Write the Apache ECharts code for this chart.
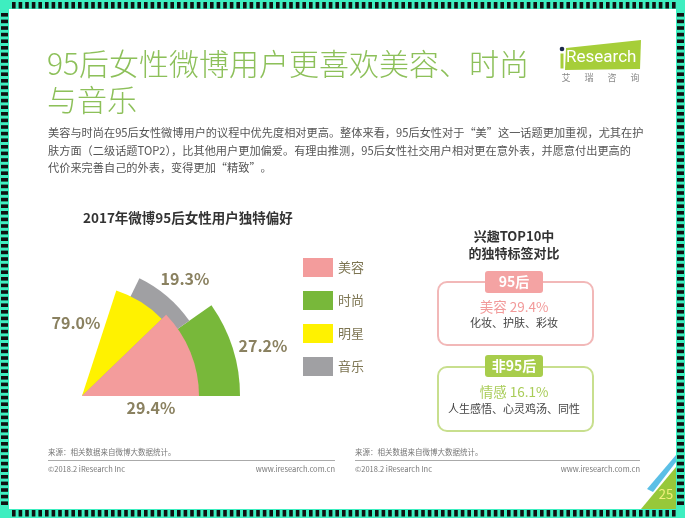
<!DOCTYPE html>
<html>
<head>
<meta charset="utf-8">
<title>95后女性微博用户独特偏好</title>
<script src="https://cdn.jsdelivr.net/npm/echarts@6/dist/echarts.min.js"></script>
<style>
  html, body { margin: 0; padding: 0; background: #fff; }
  #main { width: 685px; height: 518px; }
</style>
</head>
<body>
<div id="main"></div>
<script>
// 图表数据
const categories = ['美容', '时尚', '明星', '音乐'];
const shares = [29.4, 27.2, 79.0, 19.3];
const colors = ['#f39c9c', '#78b83a', '#fff200', '#a0a0a3'];

// 右侧对比标签
const groupNames = ['95后', '非95后'];
const groupTopics = ['美容', '情感'];
const groupShares = [29.4, 16.1];
const groupTags = ['化妆、护肤、彩妆', '人生感悟、心灵鸡汤、同性'];

// 扇形的摆放（角度/半径），不是数据
const sectorStart = [0, 0, 44, 35];
const sectorEnd = [44, 35, 72, 64];
const sectorRadius = [117, 158, 111, 131];
const labelPos = [[151, 408], [263, 346], [76, 323], [185, 279]];
const drawOrder = [1, 3, 2, 0];

const FONT = '"Noto Sans CJK SC", "Microsoft YaHei", sans-serif';
const pieCenter = [82, 396];

let myChart = echarts.init(document.getElementById('main'));

// 每个类别一个扇形
const series = drawOrder.map(i => ({
    name: categories[i],
    type: 'pie',
    center: pieCenter,
    radius: [0, sectorRadius[i]],
    startAngle: sectorStart[i],
    endAngle: sectorEnd[i],
    clockwise: false,
    silent: true,
    animation: false,
    avoidLabelOverlap: false,
    itemStyle: { color: colors[i] },
    label: {
        show: true,
        position: 'outside',
        formatter: p => p.value.toFixed(1) + '%',
        fontFamily: FONT,
        fontSize: 16,
        fontWeight: 'bold',
        color: '#8a8160'
    },
    labelLine: { show: false },
    labelLayout: {
        x: labelPos[i][0],
        y: labelPos[i][1],
        align: 'center',
        verticalAlign: 'middle'
    },
    data: [{ name: categories[i], value: shares[i] }]
}));

function txt(text, x, y, size, color, opts) {
    return {
        type: 'text',
        z: 1,
        silent: true,
        style: Object.assign({
            text: text,
            x: x,
            y: y,
            fontFamily: FONT,
            fontSize: size,
            fill: color,
            textVerticalAlign: 'middle',
            textAlign: 'left'
        }, opts || {})
    };
}

function box(x, y, w, h, fill) {
    return { type: 'rect', z: 0, silent: true, shape: { x: x, y: y, width: w, height: h }, style: { fill: fill } };
}

// 边框：青色底 + 黑色短条
const frame = [
    box(0, 0, 685, 9, '#3eeec0'),
    box(0, 509, 685, 9, '#3eeec0'),
    box(0, 0, 9, 518, '#3eeec0'),
    box(676, 0, 9, 518, '#3eeec0')
];
for (let x = 12; x < 674; x += 6.6) {
    frame.push(box(x, 2, 3.6, 6.5, '#111111'));
    frame.push(box(x, 510, 3.6, 6.5, '#111111'));
}
for (let y = 13; y < 506; y += 6.6) {
    frame.push(box(1, y, 7, 3.6, '#111111'));
    frame.push(box(677, y, 7, 3.6, '#111111'));
}

// 页面装饰：标题、正文、右侧卡片、页脚
const graphics = frame.concat([
    txt('95后女性微博用户更喜欢美容、时尚\n与音乐', 47, 82, 30, '#8dc05a', { fontWeight: 300, lineHeight: 36 }),

    // logo
    { type: 'polygon', silent: true, shape: { points: [[566, 48], [641, 40], [640, 69], [565, 70]] }, style: { fill: '#a6ce39' } },
    { type: 'circle', silent: true, shape: { cx: 562, cy: 49, r: 2.3 }, style: { fill: '#1d2a4d' } },
    { type: 'rect', silent: true, shape: { x: 560.5, y: 53.5, width: 3, height: 15 }, style: { fill: '#a6ce39' } },
    txt('Research', 566, 58, 17, '#ffffff', { fontFamily: 'Roboto, sans-serif' }),
    txt('艾', 566, 78, 9, '#888888', { textAlign: 'center' }),
    txt('瑞', 589, 78, 9, '#888888', { textAlign: 'center' }),
    txt('咨', 612, 78, 9, '#888888', { textAlign: 'center' }),
    txt('询', 635, 78, 9, '#888888', { textAlign: 'center' }),

    txt('美容与时尚在95后女性微博用户的议程中优先度相对更高。整体来看，95后女性对于“美”这一话题更加重视，尤其在护\n' +
        '肤方面（二级话题TOP2），比其他用户更加偏爱。有理由推测，95后女性社交用户相对更在意外表，并愿意付出更高的\n' +
        '代价来完善自己的外表，变得更加“精致”。', 48, 150.5, 11.2, '#555555', { lineHeight: 17.5 }),

    // 右侧卡片
    txt('兴趣TOP10中\n的独特标签对比', 514, 244.5, 13, '#333333', { fontWeight: 'bold', textAlign: 'center', lineHeight: 17 }),

    { type: 'rect', silent: true, shape: { x: 438, y: 282, width: 155, height: 63, r: 9 }, style: { fill: '#fff', stroke: '#f2b8b8', lineWidth: 2 } },
    { type: 'rect', silent: true, shape: { x: 485, y: 271, width: 58, height: 22, r: 3 }, style: { fill: '#f4a3a3' } },
    txt(groupNames[0], 514, 282, 14, '#ffffff', { fontWeight: 'bold', textAlign: 'center' }),
    txt(groupTopics[0] + ' ' + groupShares[0].toFixed(1) + '%', 514, 306.5, 13.5, '#f29a9a', { textAlign: 'center' }),
    txt(groupTags[0], 514, 323, 11, '#444444', { textAlign: 'center' }),

    { type: 'rect', silent: true, shape: { x: 438, y: 367, width: 155, height: 64, r: 9 }, style: { fill: '#fff', stroke: '#c8df8e', lineWidth: 2 } },
    { type: 'rect', silent: true, shape: { x: 485, y: 355, width: 58, height: 22, r: 3 }, style: { fill: '#a8cd4c' } },
    txt(groupNames[1], 514, 366, 14, '#ffffff', { fontWeight: 'bold', textAlign: 'center' }),
    txt(groupTopics[1] + ' ' + groupShares[1].toFixed(1) + '%', 514, 391.5, 13.5, '#a9cc58', { textAlign: 'center' }),
    txt(groupTags[1], 514, 409, 11, '#444444', { textAlign: 'center' }),

    // 页脚
    txt('来源：相关数据来自微博大数据统计。', 48, 452, 7.5, '#777777'),
    txt('来源：相关数据来自微博大数据统计。', 355, 452, 7.5, '#777777'),
    { type: 'line', silent: true, shape: { x1: 48, y1: 460.5, x2: 335, y2: 460.5 }, style: { stroke: '#aaaaaa', lineWidth: 1 } },
    { type: 'line', silent: true, shape: { x1: 355, y1: 460.5, x2: 640, y2: 460.5 }, style: { stroke: '#aaaaaa', lineWidth: 1 } },
    txt('©2018.2 iResearch Inc', 48, 469, 7.5, '#777777'),
    txt('www.iresearch.com.cn', 335, 469, 7.5, '#777777', { textAlign: 'right' }),
    txt('©2018.2 iResearch Inc', 355, 469, 7.5, '#777777'),
    txt('www.iresearch.com.cn', 640, 469, 7.5, '#777777', { textAlign: 'right' }),

    // 页码角标
    { type: 'polygon', silent: true, shape: { points: [[676, 455], [676, 462], [653, 492], [647, 489]] }, style: { fill: '#5bbfe6' } },
    { type: 'polygon', silent: true, shape: { points: [[641, 509], [676, 467], [676, 509]] }, style: { fill: '#97c83a' } },
    txt('25', 666, 494, 13, '#f2f07c', { textAlign: 'center' })
]);

let option = {
    backgroundColor: '#ffffff',
    animation: false,
    title: {
        text: '2017年微博95后女性用户独特偏好',
        left: 83,
        top: 211,
        padding: 0,
        textStyle: {
            fontFamily: FONT,
            fontSize: 13.5,
            fontWeight: 'bold',
            color: '#333333'
        }
    },
    legend: {
        orient: 'vertical',
        left: 303,
        top: 258,
        padding: 0,
        itemWidth: 30,
        itemHeight: 19,
        itemGap: 14,
        icon: 'rect',
        selectedMode: false,
        data: categories,
        textStyle: {
            fontFamily: FONT,
            fontSize: 13,
            color: '#7d7552'
        }
    },
    graphic: graphics,
    series: series
};
option && myChart.setOption(option);
</script>
</body>
</html>
